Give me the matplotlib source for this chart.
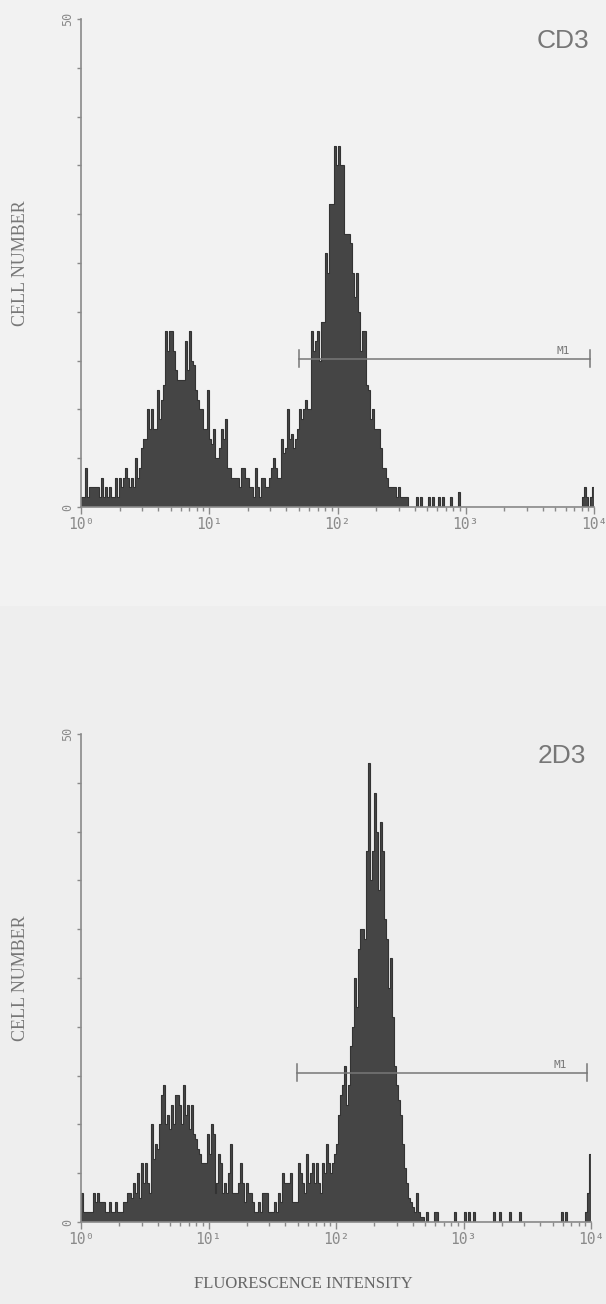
import numpy as np
import matplotlib
matplotlib.use("Agg")
import matplotlib.pyplot as plt

# 256 log channels over 4 decades (10^0 .. 10^4), counts
cd3_counts = [
    1, 1, 4, 1, 2, 2, 2, 2, 2, 1, 3, 1, 2, 1, 2, 1,
    1, 3, 1, 3, 2, 3, 4, 3, 2, 3, 2, 5, 3, 4, 6, 7,
    7, 10, 8, 10, 8, 8, 12, 9, 11, 12.5, 18, 16, 18, 18, 16, 14,
    13, 13, 13, 13, 17, 14, 18, 15, 14.5, 12, 11, 10, 10, 8, 8, 12,
    7, 6.5, 8, 5, 5, 6, 8, 7, 9, 4, 4, 3, 3, 3, 3, 2,
    4, 4, 3, 3, 2, 2, 1, 4, 2, 1, 3, 3, 2, 2, 3, 4,
    5, 4, 3, 3, 7, 5.5, 6, 10, 7, 7.5, 6, 7, 8, 10, 9, 10,
    11, 10, 10, 18, 16, 17, 18, 15, 19, 19, 26, 24, 31, 31, 37, 35,
    37, 35, 35, 28, 28, 28, 27, 24, 21.5, 24, 20, 16, 18, 18, 12.5, 12,
    9, 10, 8, 8, 8, 6, 4, 4, 3, 2, 2, 2, 2, 1, 2, 1,
    1, 1, 1, 0, 0, 0, 0, 1, 0, 1, 0, 0, 0, 1, 0, 1,
    0, 0, 1, 0, 1, 0, 0, 0, 1, 0, 0, 0, 1.5, 0, 0, 0,
    0, 0, 0, 0, 0, 0, 0, 0, 0, 0, 0, 0, 0, 0, 0, 0,
    0, 0, 0, 0, 0, 0, 0, 0, 0, 0, 0, 0, 0, 0, 0, 0,
    0, 0, 0, 0, 0, 0, 0, 0, 0, 0, 0, 0, 0, 0, 0, 0,
    0, 0, 0, 0, 0, 0, 0, 0, 0, 0, 1, 2, 1, 0, 1, 2,
]

d2d3_counts = [
    3, 1, 1, 1, 1, 1, 3, 2, 3, 2, 2, 2, 1, 1, 2, 1,
    1, 2, 1, 1, 1, 2, 2, 3, 3, 2.5, 4, 3, 5, 2.5, 6, 4,
    6, 4, 3, 10, 6.5, 8, 7.5, 10, 13, 14, 10, 11, 9.5, 12, 10, 13,
    13, 12, 10, 14, 11, 12, 9.5, 12, 9, 8.5, 7.5, 7, 6, 6, 6, 9,
    7, 10, 9, 3, 4, 7, 6, 3, 4, 3, 5, 8, 3, 3, 3, 4,
    6, 4, 2, 4, 3, 3, 2, 1, 1, 2, 1, 3, 3, 3, 1, 1,
    1, 2, 1, 3, 2, 5, 4, 4, 4, 5, 2, 2, 2, 6, 5, 4,
    3, 7, 4, 5, 6, 4, 6, 4, 3, 6, 5, 8, 6, 5, 6, 7,
    8, 11, 13, 14, 16, 12, 14, 18, 20, 25, 22, 28, 30, 30, 29, 38,
    47, 35, 38, 44, 40, 34, 41, 38, 31, 29, 24, 27, 21, 16, 14, 12.5,
    11, 8, 5.5, 4, 2.5, 2, 1.5, 1, 3, 1, 0.5, 0.5, 0, 1, 0, 0,
    0, 1, 1, 0, 0, 0, 0, 0, 0, 0, 0, 1, 0, 0, 0, 0,
    1, 0, 1, 0, 0, 1, 0, 0, 0, 0, 0, 0, 0, 0, 0, 1,
    0, 0, 1, 0, 0, 0, 0, 1, 0, 0, 0, 0, 1, 0, 0, 0,
    0, 0, 0, 0, 0, 0, 0, 0, 0, 0, 0, 0, 0, 0, 0, 0,
    0, 1, 0, 1, 0, 0, 0, 0, 0, 0, 0, 0, 0, 1, 3, 7,
]

panel_labels = ["CD3", "2D3"]
marker_label = "M1"
marker_start = [50, 49]       # left end of M1 gate
marker_end = [9300, 9300]     # right end of M1 gate
marker_level = [15.2, 15.3]   # height (cell number) of the gate line
decade_labels = ["10\u2070", "10\u00b9", "10\u00b2", "10\u00b3", "10\u2074"]

n_chan = 256
edges = 10 ** (np.arange(n_chan + 1) / 64.0)

gray = "#8a8a8a"
fig = plt.figure(figsize=(6.06, 13.04), dpi=100, facecolor="#f2f2f2")
# lower half of the scan is a touch greyer
fig.patches.append(plt.Rectangle((0, 0), 1, 0.535, transform=fig.transFigure,
                                 facecolor="#eeeeee", edgecolor="none", zorder=-1))

axes_pos = [
    [0.1337, 0.6112, 0.8465, 0.3742],
    [0.1337, 0.0629, 0.8416, 0.3742],
]

for i, counts in enumerate([cd3_counts, d2d3_counts]):
    ax = fig.add_axes(axes_pos[i])
    ax.set_facecolor("none")
    ax.stairs(counts, edges, fill=True, color="#454545")
    ax.stairs(counts, edges, color="#333333", linewidth=0.8)

    ax.set_xscale("log")
    ax.set_xlim(1, 1e4)
    ax.set_ylim(0, 50)

    for s in ["top", "right"]:
        ax.spines[s].set_visible(False)
    for s in ["left", "bottom"]:
        ax.spines[s].set_color(gray)
        ax.spines[s].set_linewidth(1.2)

    ax.set_xticks([1, 10, 100, 1000, 10000])
    ax.set_xticklabels(decade_labels, family="DejaVu Sans Mono",
                       fontsize=10.5, color=gray)
    ax.xaxis.set_minor_locator(matplotlib.ticker.LogLocator(base=10, subs=np.arange(2, 10)))
    ax.xaxis.set_minor_formatter(matplotlib.ticker.NullFormatter())
    ax.tick_params(axis="x", which="major", length=5, width=1, color=gray, pad=2)
    ax.tick_params(axis="x", which="minor", length=3, width=1, color=gray)

    ax.set_yticks(np.arange(0, 51, 5))
    ax.set_yticklabels(["0" if v == 0 else ("50" if v == 50 else "")
                        for v in range(0, 51, 5)],
                       family="DejaVu Sans Mono", fontsize=8.5, color=gray,
                       rotation=90, va="center")
    ax.tick_params(axis="y", length=3, width=1, color=gray, pad=2)

    ax.set_ylabel("CELL NUMBER", family="Liberation Serif", fontsize=13,
                  color="#777777", labelpad=23)

    ax.text(0.99, 0.955, panel_labels[i], transform=ax.transAxes,
            ha="right", va="center", fontsize=19, color="#777777",
            family="Liberation Sans")

    # M1 gate
    y = marker_level[i]
    ax.plot([marker_start[i], marker_end[i]], [y, y], color="#777777", lw=1.1)
    for xe in [marker_start[i], marker_end[i]]:
        ax.plot([xe, xe], [y - 0.9, y + 0.9], color="#777777", lw=1.1)
    ax.text(marker_end[i] * 0.62, y + 0.3, marker_label, ha="center",
            va="bottom", fontsize=8, color="#777777", family="DejaVu Sans Mono")

fig.text(0.5, 0.015, "FLUORESCENCE INTENSITY", ha="center", va="center",
         family="Liberation Serif", fontsize=12, color="#666666")

fig.savefig("out.png", dpi=100, facecolor=fig.get_facecolor())
